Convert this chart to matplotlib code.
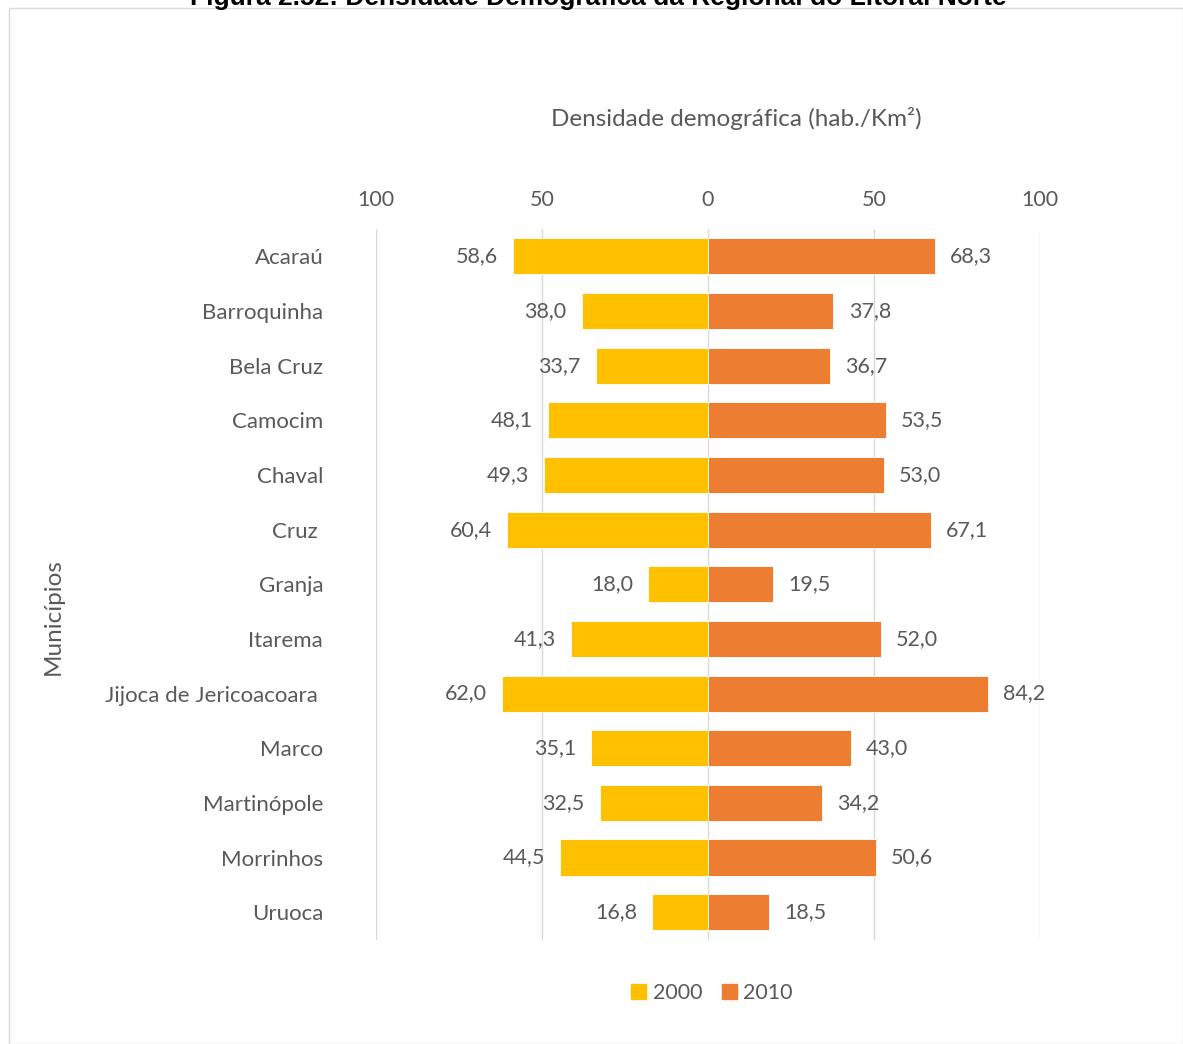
import matplotlib
matplotlib.use("Agg")
import matplotlib.pyplot as plt
from matplotlib.patches import Rectangle
from matplotlib.ticker import FixedLocator, FuncFormatter
import numpy as np

municipios = ["Acaraú", "Barroquinha", "Bela Cruz", "Camocim", "Chaval", "Cruz ",
              "Granja", "Itarema", "Jijoca de Jericoacoara ", "Marco", "Martinópole",
              "Morrinhos", "Uruoca"]
dens_2000 = [58.6, 38.0, 33.7, 48.1, 49.3, 60.4, 18.0, 41.3, 62.0, 35.1, 32.5, 44.5, 16.8]
dens_2010 = [68.3, 37.8, 36.7, 53.5, 53.0, 67.1, 19.5, 52.0, 84.2, 43.0, 34.2, 50.6, 18.5]
tick_values = [-100, -50, 0, 50, 100]

COL_2000 = "#FFC000"
COL_2010 = "#ED7D31"
TXT = "#595959"
GRID = "#D9D9D9"

plt.rcParams["font.family"] = ["Lato", "DejaVu Sans"]

W, H = 1183, 1044
fig = plt.figure(figsize=(W / 100, H / 100), dpi=100)

# chart frame
fig.patches.append(Rectangle((9 / W, 0), 1 - 9 / W - 0.5 / W, 1 - 8 / H,
                             transform=fig.transFigure, fill=False,
                             edgecolor="#D9D9D9", linewidth=1.0))

# figure caption, partly above the top edge
fig.text(598 / W, 1 + 2 / H, "Figura 2.52: Densidade Demográfica da Regional do Litoral Norte",
         ha="center", va="center", fontsize=19, fontweight="bold",
         family=["Liberation Sans", "DejaVu Sans"], color="#000000")

x0, x1 = 376, 1040
y_top, y_bot = 229, 939.5
ax = fig.add_axes([x0 / W, 1 - y_bot / H, (x1 - x0) / W, (y_bot - y_top) / H])

y = np.arange(len(municipios))
neg_2000 = [-v for v in dens_2000]
ax.barh(y, neg_2000, height=0.66, color=COL_2000, edgecolor="white", linewidth=0.6, zorder=2)
ax.barh(y, dens_2010, height=0.66, color=COL_2010, edgecolor="white", linewidth=0.6, zorder=2)

ax.set_xlim(-100, 100)
ax.set_ylim(len(municipios) - 0.5, -0.5)
ax.xaxis.set_major_locator(FixedLocator(tick_values))
ax.xaxis.set_major_formatter(FuncFormatter(lambda v, p: f"{abs(v):.0f}"))
ax.xaxis.tick_top()
ax.tick_params(axis="x", length=0, pad=14, labelsize=15.5, labelcolor=TXT)
ax.set_yticks(y)
ax.set_yticklabels(municipios)
ax.tick_params(axis="y", length=0, pad=38, labelsize=16, labelcolor=TXT)
ax.grid(axis="x", color=GRID, linewidth=1.0, zorder=0)
ax.set_axisbelow(True)
for s in ax.spines.values():
    s.set_visible(False)

fmt = lambda v: f"{v:.1f}".replace(".", ",")
for yi, v in zip(y, dens_2000):
    ax.annotate(fmt(v), (-v, yi), xytext=(-11, 0), textcoords="offset points",
                ha="right", va="center", fontsize=15.5, color=TXT, zorder=3)
for yi, v in zip(y, dens_2010):
    ax.annotate(fmt(v), (v, yi), xytext=(11, 0), textcoords="offset points",
                ha="left", va="center", fontsize=15.5, color=TXT, zorder=3)

fig.text(736 / W, 1 - 118 / H, "Densidade demográfica (hab./Km²)", ha="center", va="center",
         fontsize=17.5, color=TXT)
fig.text(53 / W, 1 - 617 / H, "Municípios", ha="center", va="center", rotation=90,
         fontsize=17.5, color=TXT)

leg = fig.legend(handles=[Rectangle((0, 0), 1, 1, color=COL_2000),
                          Rectangle((0, 0), 1, 1, color=COL_2010)],
                 labels=["2000", "2010"], loc="center", bbox_to_anchor=(712 / W, 1 - 993 / H),
                 ncol=2, frameon=False, fontsize=15.5, handlelength=0.7, handleheight=0.7,
                 handletextpad=0.3, columnspacing=0.9, labelcolor=TXT)

fig.savefig("out.png", dpi=100)
